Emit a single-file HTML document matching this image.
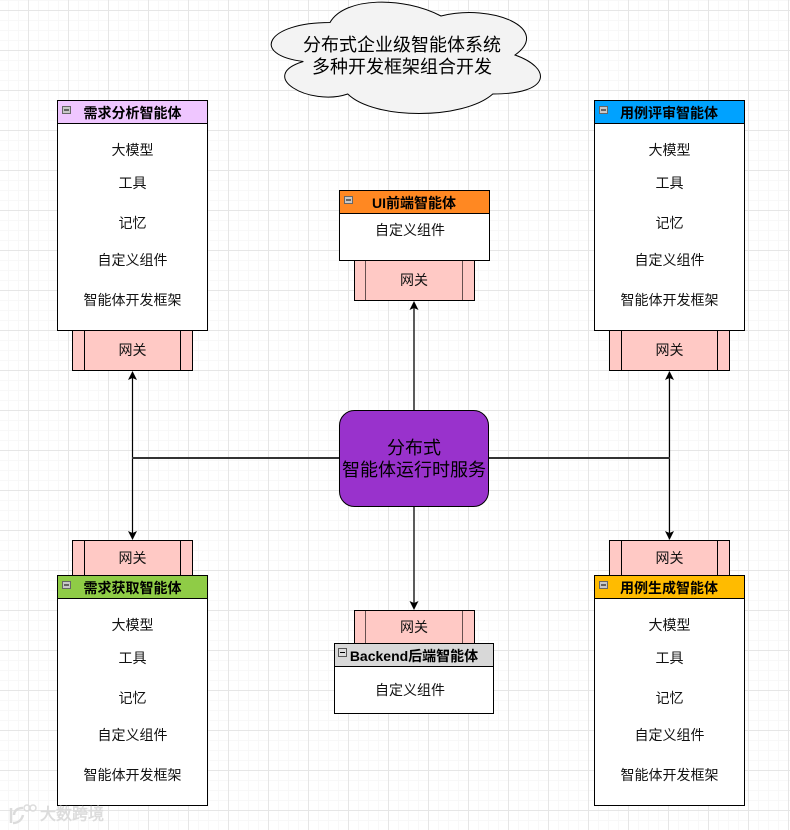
<!DOCTYPE html>
<html>
<head>
<meta charset="utf-8">
<style>
html,body{margin:0;padding:0;background:#fff;width:790px;height:830px;overflow:hidden}
svg{display:block}
text{font-family:"Liberation Sans","Noto Sans CJK SC",sans-serif;text-anchor:middle;dominant-baseline:central;fill:#000}
.l{font-size:14px;fill:#111}
.h{font-size:14px;font-weight:bold}
.b{font-size:18px}
.box{fill:#fff;stroke:#000;stroke-width:1}
.gw{fill:#ffc9c5;stroke:#000;stroke-width:1}
.in{stroke:#000;stroke-width:1;fill:none}
.m{fill:#c8c8c8;stroke:#666;stroke-width:1}
</style>
</head>
<body>
<svg width="790" height="830" viewBox="0 0 790 830" xmlns="http://www.w3.org/2000/svg">
<defs>
<pattern id="g1" x="8" y="10" width="10" height="10" patternUnits="userSpaceOnUse"><path d="M.5 0V10M0 .5H10" stroke="#f8f8f8" fill="none"/></pattern>
<pattern id="g2" x="28" y="10" width="40" height="40" patternUnits="userSpaceOnUse"><path d="M.5 0V40M0 .5H40" stroke="#e6e6e6" fill="none"/></pattern>
</defs>
<rect width="790" height="830" fill="#fff"/>
<rect width="790" height="830" fill="url(#g1)"/>
<rect width="790" height="830" fill="url(#g2)"/>

<!-- cloud -->
<path d="M330 22.500C266 22.500 250 55 303.360 61.500C256 75.800 309.280 107 347.760 94C374.400 120 463.200 120 492.800 94C552 94 552 68 515 55C552 29 492.800 3 441 16C404 -3.500 344.800 -3.500 330 22.500Z" fill="#f3f3f3" stroke="#000" stroke-width="1"/>
<text class="b" x="402" y="45">分布式企业级智能体系统</text>
<text class="b" x="402" y="67">多种开发框架组合开发</text>

<!-- connectors -->
<g fill="none" stroke="#000">
<path d="M132.500 378V534M669.500 378V534" stroke-width="1.200"/>
<path d="M132 458H339M489 458H670" stroke-width="2" stroke="#333"/>
<path d="M414 308V410M414 506V604" stroke-width="1.600" stroke="#333"/>
</g>
<g fill="#000">
<path d="M132.500 371L128 380L132.500 378L137 380Z"/>
<path d="M132.500 540L128 531L132.500 533L137 531Z"/>
<path d="M669.500 371L665 380L669.500 378L674 380Z"/>
<path d="M669.500 540L665 531L669.500 533L674 531Z"/>
<path d="M414 301L409.500 310L414 308L418.500 310Z"/>
<path d="M414 610L409.500 601L414 603L418.500 601Z"/>
</g>

<!-- gateways -->
<g>
<rect class="gw" x="72.500" y="330.500" width="120" height="40"/><path class="in" d="M84.500 330V370M180.500 330V370"/>
<text class="l" x="132.500" y="350">网关</text>
<rect class="gw" x="609.500" y="330.500" width="120" height="40"/><path class="in" d="M621.500 330V370M717.500 330V370"/>
<text class="l" x="669.500" y="350">网关</text>
<rect class="gw" x="354.500" y="260.500" width="120" height="40"/><path class="in" d="M365.500 260V300M462.500 260V300" stroke-opacity=".6"/>
<text class="l" x="414" y="280">网关</text>
<rect class="gw" x="72.500" y="540.500" width="120" height="40"/><path class="in" d="M84.500 540V575M180.500 540V575"/>
<text class="l" x="132.500" y="558">网关</text>
<rect class="gw" x="609.500" y="540.500" width="120" height="40"/><path class="in" d="M621.500 540V575M717.500 540V575"/>
<text class="l" x="669.500" y="558">网关</text>
<rect class="gw" x="354.500" y="610.500" width="120" height="40"/><path class="in" d="M365.500 610V643M462.500 610V643" stroke-opacity=".6"/>
<text class="l" x="414" y="627">网关</text>
</g>

<!-- top-left -->
<rect class="box" x="57.500" y="100.500" width="150" height="230"/>
<rect x="57.500" y="100.500" width="150" height="23" fill="#efc6ff" stroke="#000"/>
<rect class="m" x="62.500" y="106.500" width="8" height="7"/><path d="M64 110H69" stroke="#000"/>
<text class="h" x="132.500" y="113">需求分析智能体</text>
<text class="l" x="132.500" y="150">大模型</text><text class="l" x="132.500" y="183">工具</text><text class="l" x="132.500" y="223">记忆</text><text class="l" x="132.500" y="260">自定义组件</text><text class="l" x="132.500" y="300">智能体开发框架</text>

<!-- top-right -->
<rect class="box" x="594.500" y="100.500" width="150" height="230"/>
<rect x="594.500" y="100.500" width="150" height="23" fill="#00a2ff" stroke="#000"/>
<rect class="m" x="599.500" y="106.500" width="8" height="7"/><path d="M601 110H606" stroke="#000"/>
<text class="h" x="669" y="113">用例评审智能体</text>
<text class="l" x="669.500" y="150">大模型</text><text class="l" x="669.500" y="183">工具</text><text class="l" x="669.500" y="223">记忆</text><text class="l" x="669.500" y="260">自定义组件</text><text class="l" x="669.500" y="300">智能体开发框架</text>

<!-- bottom-left -->
<rect class="box" x="57.500" y="575.500" width="150" height="230"/>
<rect x="57.500" y="575.500" width="150" height="23" fill="#8fcc46" stroke="#000"/>
<rect class="m" x="62.500" y="581.500" width="8" height="7"/><path d="M64 585H69" stroke="#000"/>
<text class="h" x="132.500" y="588">需求获取智能体</text>
<text class="l" x="132.500" y="625">大模型</text><text class="l" x="132.500" y="658">工具</text><text class="l" x="132.500" y="698">记忆</text><text class="l" x="132.500" y="735">自定义组件</text><text class="l" x="132.500" y="775">智能体开发框架</text>

<!-- bottom-right -->
<rect class="box" x="594.500" y="575.500" width="150" height="230"/>
<rect x="594.500" y="575.500" width="150" height="23" fill="#ffbb00" stroke="#000"/>
<rect class="m" x="599.500" y="581.500" width="8" height="7"/><path d="M601 585H606" stroke="#000"/>
<text class="h" x="669" y="588">用例生成智能体</text>
<text class="l" x="669.500" y="625">大模型</text><text class="l" x="669.500" y="658">工具</text><text class="l" x="669.500" y="698">记忆</text><text class="l" x="669.500" y="735">自定义组件</text><text class="l" x="669.500" y="775">智能体开发框架</text>

<!-- top-center -->
<rect class="box" x="339.500" y="190.500" width="150" height="70"/>
<rect x="339.500" y="190.500" width="150" height="23" fill="#ff8822" stroke="#000"/>
<rect class="m" x="344.500" y="196.500" width="8" height="7"/><path d="M346 200H351" stroke="#000"/>
<text class="h" x="414" y="203">UI前端智能体</text>
<text class="l" x="410" y="230">自定义组件</text>

<!-- bottom-center -->
<rect class="box" x="334.500" y="643.500" width="159" height="70"/>
<rect x="334.500" y="643.500" width="159" height="23" fill="#d8d8d8" stroke="#000"/>
<rect x="338.500" y="648.500" width="8" height="8" fill="#ddd" stroke="#555"/><path d="M340 652.500H345" stroke="#000"/>
<text class="h" x="414" y="656">Backend后端智能体</text>
<text class="l" x="410" y="690">自定义组件</text>

<!-- center -->
<rect x="339.500" y="410.500" width="149" height="96" rx="15" ry="15" fill="#9932cc" stroke="#000"/>
<text class="b" x="414" y="448">分布式</text>
<text class="b" x="414" y="470">智能体运行时服务</text>

<!-- watermark -->
<g>
<path d="M11 808V823M13 823C19 823 22 819 23 815M23 808C17 808 14 811 14 815" fill="none" stroke="#dcdcdc" stroke-width="2.500"/>
<circle cx="27" cy="808" r="3" fill="none" stroke="#dcdcdc" stroke-width="1.500"/>
<circle cx="33" cy="808" r="3" fill="none" stroke="#dcdcdc" stroke-width="1.500"/>
<text x="72" y="815" style="font-size:16px;fill:#dcdcdc;stroke:#dcdcdc;stroke-width:.6">大数跨境</text>
</g>
</svg>
</body>
</html>
